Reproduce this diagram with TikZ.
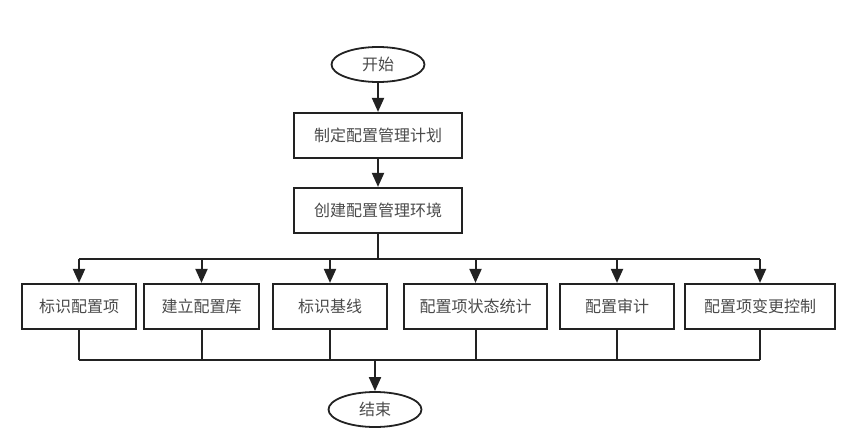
\documentclass[tikz,border=0pt]{standalone}
\usepackage{fontspec}
\setmainfont{Noto Sans CJK SC}
\usetikzlibrary{arrows.meta,shapes.geometric}
\definecolor{txt}{HTML}{4a4a4a}
\definecolor{ln}{HTML}{222222}
\begin{document}
\begin{tikzpicture}[x=1pt,y=-1pt,
  box/.style={draw=ln,line width=2.2pt,minimum height=45pt,inner sep=0pt,text=txt,font=\fontsize{16}{19}\selectfont},
  term/.style={draw=ln,ellipse,line width=1.8pt,minimum width=93pt,minimum height=35pt,inner sep=0pt,text=txt,font=\fontsize{16}{19}\selectfont},
  arr/.style={draw=ln,line width=2pt,-{Triangle[length=14pt,width=12pt]}},
  ln/.style={draw=ln,line width=2pt}]
\useasboundingbox (0,0) rectangle (845,447);
\node[term] (start) at (378,64.5) {开始};
\node[box,minimum width=168pt] (plan) at (378,135.5) {制定配置管理计划};
\node[box,minimum width=168pt] (env) at (378,210.5) {创建配置管理环境};
\node[box,minimum width=114pt] (b1) at (79,306.5) {标识配置项};
\node[box,minimum width=115pt] (b2) at (201.5,306.5) {建立配置库};
\node[box,minimum width=114pt] (b3) at (330,306.5) {标识基线};
\node[box,minimum width=143pt] (b4) at (475.5,306.5) {配置项状态统计};
\node[box,minimum width=114pt] (b5) at (617,306.5) {配置审计};
\node[box,minimum width=150pt] (b6) at (760,306.5) {配置项变更控制};
\node[term] (end) at (375,409.5) {结束};
\draw[arr] (start) -- (plan);
\draw[arr] (plan) -- (env);
\coordinate (split) at (378,259);
\coordinate (join) at (375,360);
\draw[ln] (env.south) -- (split);
\draw[ln] (b1.north |- split) -- (b6.north |- split);
\foreach \b in {b1,b2,b3,b4,b5,b6}{
  \draw[arr] (\b.north |- split) -- (\b.north);
  \draw[ln] (\b.south) -- (\b.south |- join);
}
\draw[ln] (b1.south |- join) -- (b6.south |- join);
\draw[arr] (join) -- (end);
\end{tikzpicture}
\end{document}
